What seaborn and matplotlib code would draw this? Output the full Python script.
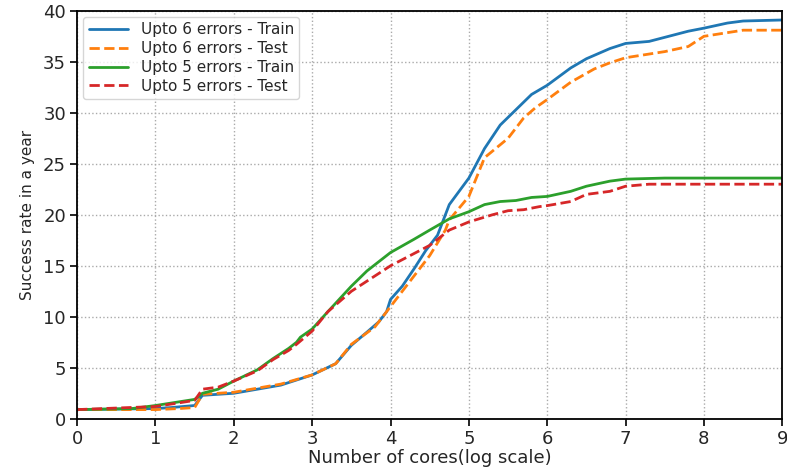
import pandas as pd
import matplotlib
matplotlib.use("Agg")
import matplotlib.pyplot as plt
import seaborn as sns

# values
x6_train = [0, 0.5, 1.0, 1.2, 1.5, 1.6, 2.0, 2.3, 2.6, 2.8, 3.0, 3.3, 3.5, 3.7, 3.85, 3.95, 4.0, 4.15,
            4.3, 4.45, 4.6, 4.65, 4.75, 5.0, 5.2, 5.4, 5.6, 5.8, 6.0, 6.3, 6.5, 6.8, 7.0, 7.3, 7.5,
            7.8, 8.0, 8.3, 8.5, 9.0]
y6_train = [0.9, 0.95, 1.0, 1.1, 1.3, 2.3, 2.5, 2.9, 3.3, 3.8, 4.3, 5.4, 7.2, 8.5, 9.5, 10.5, 11.7, 13.0,
            14.7, 16.5, 18.0, 19.0, 21.0, 23.6, 26.5, 28.8, 30.3, 31.8, 32.7, 34.4, 35.3, 36.3, 36.8, 37.0, 37.4,
            38.0, 38.3, 38.8, 39.0, 39.1]

x6_test = [0, 1.0, 1.3, 1.5, 1.6, 2.0, 2.3, 2.6, 3.0, 3.3, 3.5, 3.8, 3.95, 4.05, 4.3, 4.5, 4.7, 4.75,
           5.0, 5.2, 5.5, 5.7, 5.85, 6.0, 6.3, 6.6, 6.8, 7.0, 7.5, 7.8, 7.9, 8.0, 8.5, 9.0]
y6_test = [0.9, 0.9, 1.0, 1.1, 2.4, 2.6, 3.0, 3.4, 4.3, 5.4, 7.3, 9.0, 10.5, 11.5, 14.0, 16.0, 18.5, 19.5,
           21.8, 25.6, 27.5, 29.5, 30.5, 31.3, 33.0, 34.3, 34.9, 35.4, 36.0, 36.5, 37.0, 37.5, 38.1, 38.1]

x5_train = [0, 0.7, 1.0, 1.5, 1.6, 1.8, 2.0, 2.3, 2.5, 2.7, 2.8, 2.85, 3.0, 3.2, 3.5, 3.7, 4.0, 4.3,
            4.5, 4.75, 5.0, 5.2, 5.4, 5.6, 5.8, 6.0, 6.3, 6.5, 6.8, 7.0, 7.5, 9.0]
y5_train = [0.9, 1.0, 1.3, 1.9, 2.5, 2.9, 3.7, 4.8, 5.9, 6.9, 7.5, 8.0, 8.8, 10.5, 13.0, 14.5, 16.3, 17.6,
            18.5, 19.6, 20.3, 21.0, 21.3, 21.4, 21.7, 21.8, 22.3, 22.8, 23.3, 23.5, 23.6, 23.6]

x5_test = [0, 1.0, 1.5, 1.6, 1.8, 2.0, 2.3, 2.5, 2.7, 2.8, 3.0, 3.2, 3.5, 3.8, 4.0, 4.3, 4.5, 4.75,
           5.0, 5.3, 5.5, 5.7, 5.9, 6.0, 6.3, 6.5, 6.8, 7.0, 7.3, 9.0]
y5_test = [0.9, 1.2, 1.8, 2.9, 3.1, 3.7, 4.7, 5.8, 6.7, 7.3, 8.6, 10.5, 12.5, 14.0, 15.0, 16.2, 17.0, 18.5,
           19.3, 20.0, 20.4, 20.5, 20.8, 20.9, 21.3, 22.0, 22.3, 22.8, 23.0, 23.0]

labels = ["Upto 6 errors - Train", "Upto 6 errors - Test", "Upto 5 errors - Train", "Upto 5 errors - Test"]
colors = ["#1f77b4", "#ff7f0e", "#2ca02c", "#d62728"]

sns.set_style("ticks")
plt.rcParams['font.family'] = ['DejaVu Sans']

fig, ax = plt.subplots(figsize=(7.87, 4.70), dpi=100)
series = [(x6_train, y6_train, "-"), (x6_test, y6_test, "--"),
          (x5_train, y5_train, "-"), (x5_test, y5_test, "--")]
for (xs, ys, ls), lab, c in zip(series, labels, colors):
    df = pd.DataFrame({"x": xs, "y": ys})
    sns.lineplot(data=df, x="x", y="y", ax=ax, color=c, linestyle=ls, linewidth=2, label=lab)

ax.set_xlim(0, 9)
ax.set_ylim(0, 40)
ax.set_xticks(range(0, 10))
ax.set_yticks(range(0, 45, 5))
ax.grid(True, linestyle=":", color="#aaaaaa", linewidth=1)
ax.tick_params(labelsize=13, length=5, width=1.2, color="black", pad=3)
for s in ax.spines.values():
    s.set_color("black")
    s.set_linewidth(1.3)
ax.set_xlabel("Number of cores(log scale)", fontsize=13, labelpad=1)
ax.set_ylabel("Success rate in a year", fontsize=11, labelpad=6)
ax.legend(loc="upper left", fontsize=11, frameon=True, edgecolor="#cccccc",
          labelspacing=0.25, borderpad=0.35, handlelength=2.6, borderaxespad=0.4)
plt.subplots_adjust(left=0.098, right=0.994, top=0.977, bottom=0.109)
plt.savefig("out.png", dpi=100)
